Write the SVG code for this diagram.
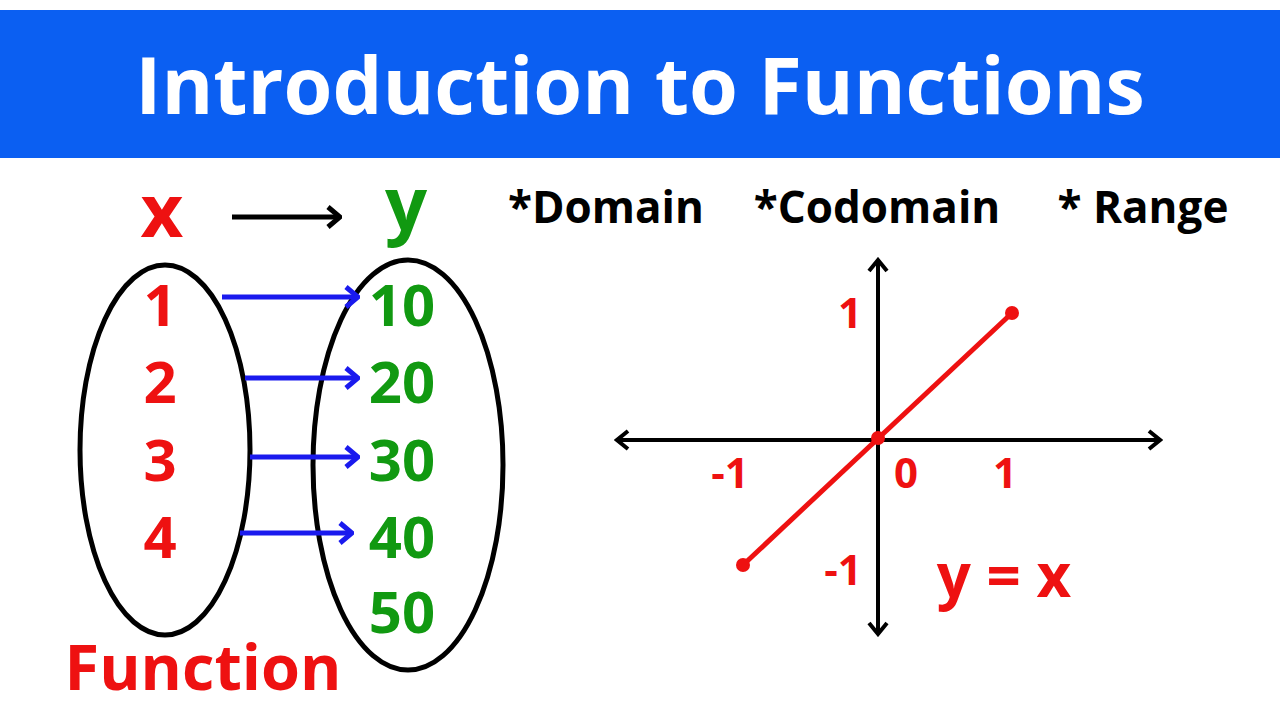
<svg xmlns="http://www.w3.org/2000/svg" width="1280" height="720" viewBox="0 0 1280 720">
<style>
text{font-family:"Open Sans","Liberation Sans",sans-serif;font-weight:bold;text-anchor:middle}
.r{fill:#ee1111}.g{fill:#119911}.k{fill:#000}
.ell{fill:none;stroke:#000;stroke-width:5}
.ba{stroke:#1a1aee;stroke-width:5;fill:none;marker-end:url(#bh)}
.ax{stroke:#000;stroke-width:4;fill:none}
</style>
<defs>
<marker id="bh" markerWidth="22" markerHeight="26" refX="20" refY="13" orient="auto" markerUnits="userSpaceOnUse"><path d="M8,3 L20,13 L8,23" fill="none" stroke="#1a1aee" stroke-width="5"/></marker>
<marker id="kh" markerWidth="22" markerHeight="26" refX="20" refY="13" orient="auto" markerUnits="userSpaceOnUse"><path d="M8,3 L20,13 L8,23" fill="none" stroke="#000" stroke-width="5"/></marker>
<marker id="ch" markerWidth="20" markerHeight="24" refX="17" refY="12" orient="auto" markerUnits="userSpaceOnUse"><path d="M6,3 L17,12 L6,21" fill="none" stroke="#000" stroke-width="4"/></marker>
</defs>
<rect width="1280" height="720" fill="#fff"/>
<g id="title"><rect x="0" y="10" width="1280" height="148" fill="#0b5ff2"/>
<text x="640" y="114" font-size="79" fill="#fff" font-weight="600">Introduction to Functions</text></g>
<g id="left-set"><ellipse class="ell" cx="165" cy="450" rx="85" ry="185"/>
<text class="r" x="162" y="237" font-size="74">x</text>
<text class="r" x="160" y="326" font-size="58">1</text>
<text class="r" x="160" y="403" font-size="58">2</text>
<text class="r" x="160" y="481" font-size="58">3</text>
<text class="r" x="160" y="558" font-size="58">4</text></g>
<g id="right-set"><ellipse class="ell" cx="408" cy="465" rx="95" ry="205"/>
<text class="g" x="406" y="230" font-size="74">y</text>
<text class="g" x="402" y="326" font-size="58">10</text>
<text class="g" x="402" y="403" font-size="58">20</text>
<text class="g" x="402" y="481" font-size="58">30</text>
<text class="g" x="402" y="558" font-size="58">40</text>
<text class="g" x="402" y="633" font-size="58">50</text></g>
<g id="connectors">
<line x1="232" y1="217" x2="340" y2="217" stroke="#000" stroke-width="5" marker-end="url(#kh)"/>
<line class="ba" x1="222" y1="297" x2="358" y2="297"/>
<line class="ba" x1="245" y1="378" x2="358" y2="378"/>
<line class="ba" x1="250" y1="457" x2="358" y2="457"/>
<line class="ba" x1="240" y1="533" x2="352" y2="533"/>
</g>
<text class="r" x="203" y="690" font-size="63">Function</text>
<g id="labels"><text class="k" x="606" y="223" font-size="44">*Domain</text>
<text class="k" x="877" y="223" font-size="44">*Codomain</text>
<text class="k" x="1143" y="223" font-size="44">* Range</text></g>
<g id="graph">
<line class="ax" x1="878" y1="440" x2="1160" y2="440" marker-end="url(#ch)"/>
<line class="ax" x1="878" y1="440" x2="617" y2="440" marker-end="url(#ch)"/>
<line class="ax" x1="878" y1="440" x2="878" y2="260" marker-end="url(#ch)"/>
<line class="ax" x1="878" y1="440" x2="878" y2="634" marker-end="url(#ch)"/>
<line x1="743" y1="565" x2="1012" y2="313" stroke="#ee1111" stroke-width="5"/>
<circle cx="743" cy="565" r="7" fill="#ee1111"/><circle cx="1012" cy="313" r="7" fill="#ee1111"/><circle cx="878" cy="438" r="7" fill="#ee1111"/>
<text class="r" x="850" y="328" font-size="42">1</text>
<text class="r" x="730" y="488" font-size="42">-1</text>
<text class="r" x="906" y="488" font-size="42">0</text>
<text class="r" x="1005" y="488" font-size="42">1</text>
<text class="r" x="843" y="585" font-size="42">-1</text>
<text class="r" x="1004" y="597" font-size="60">y = x</text>
</g>
</svg>
